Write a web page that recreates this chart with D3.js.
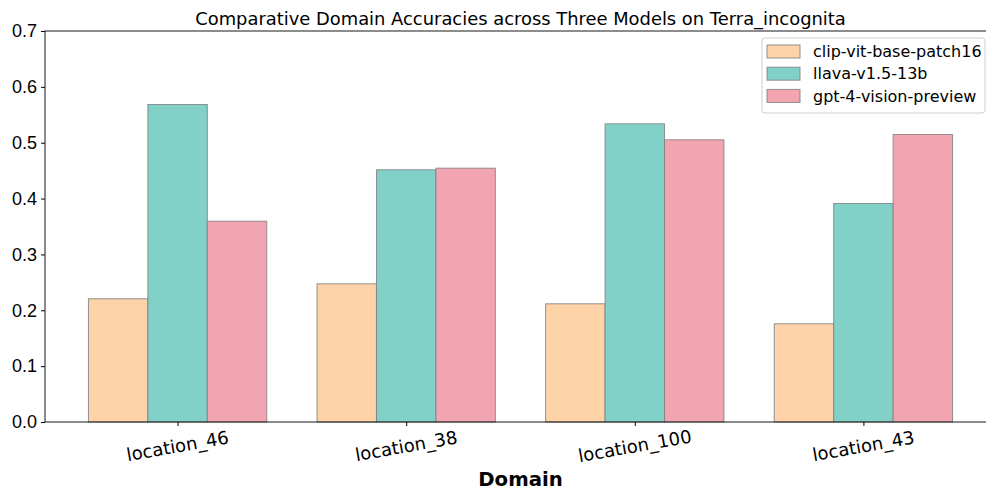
<!DOCTYPE html>
<html>
<head>
<meta charset="utf-8">
<script src="https://cdn.jsdelivr.net/npm/d3@7"></script>
<style>
  body { margin: 0; background: #fff; }
  svg { display: block; font-family: "DejaVu Sans", sans-serif; }
</style>
</head>
<body>
<div id="plot"></div>
<script>
var domains = ["location_46", "location_38", "location_100", "location_43"];
var models = ["clip-vit-base-patch16", "llava-v1.5-13b", "gpt-4-vision-preview"];
var clipValues = [0.2206, 0.2474, 0.2116, 0.1758];
var llavaValues = [0.5684, 0.4515, 0.5338, 0.3912];
var gptValues = [0.3595, 0.4544, 0.5052, 0.5147];
var colors = ["#FED3A7", "#81D1C8", "#F2A5B1"];
var yTicks = [0, 0.1, 0.2, 0.3, 0.4, 0.5, 0.6, 0.7];

var W = 986, H = 491;
var margin = {top: 31, right: -10, bottom: 69, left: 45};
var width = W - margin.left - margin.right;
var height = H - margin.top - margin.bottom;

var series = [clipValues, llavaValues, gptValues];

var svg = d3.select("#plot").append("svg")
  .attr("width", W)
  .attr("height", H);

var g = svg.append("g")
  .attr("transform", "translate(" + margin.left + "," + margin.top + ")");

// numeric x like matplotlib: positions 0..3, limits -0.58..3.58
var x = d3.scaleLinear().domain([-0.58, 3.58]).range([0, width]);
var y = d3.scaleLinear().domain([0, 0.7]).range([height, 0]);
var barW = 0.26;

series.forEach(function(vals, s) {
  g.append("g")
    .selectAll("rect")
    .data(vals)
    .enter().append("rect")
    .attr("x", function(d, i) { return x(i + (s - 1.5) * barW); })
    .attr("y", function(d) { return y(d); })
    .attr("width", x(barW) - x(0))
    .attr("height", function(d) { return y(0) - y(d); })
    .attr("fill", colors[s])
    .attr("stroke", "#808080")
    .attr("stroke-opacity", 0.85)
    .attr("stroke-width", 1);
});

// frame
g.append("rect")
  .attr("x", 0).attr("y", 0)
  .attr("width", width).attr("height", height)
  .attr("fill", "none")
  .attr("stroke", "#000")
  .attr("stroke-width", 0.9);

// y axis
var yAxis = g.append("g")
  .call(d3.axisLeft(y).tickValues(yTicks).tickFormat(d3.format(".1f")).tickSize(4).tickPadding(4));
yAxis.select(".domain").remove();
yAxis.selectAll("text").style("font-size", "18px").attr("fill", "#000");

// x axis
var xAxis = g.append("g")
  .attr("transform", "translate(0," + height + ")")
  .call(d3.axisBottom(x).tickValues([0, 1, 2, 3]).tickFormat("").tickSize(4));
xAxis.select(".domain").remove();

g.append("g")
  .selectAll("text")
  .data(domains)
  .enter().append("text")
  .attr("transform", function(d, i) { return "translate(" + x(i) + "," + (height + 24) + ") rotate(-10)"; })
  .attr("text-anchor", "middle")
  .attr("dy", "0.35em")
  .style("font-size", "18px")
  .text(function(d) { return d; });

// title
svg.append("text")
  .attr("x", margin.left + width / 2)
  .attr("y", 25)
  .attr("text-anchor", "middle")
  .style("font-size", "17.9px")
  .text("Comparative Domain Accuracies across Three Models on Terra_incognita");

// x label
svg.append("text")
  .attr("x", margin.left + width / 2)
  .attr("y", 486)
  .attr("text-anchor", "middle")
  .style("font-size", "19.7px")
  .style("font-weight", "bold")
  .text("Domain");

// legend
var leg = svg.append("g").attr("transform", "translate(762,38)");
leg.append("rect")
  .attr("width", 223).attr("height", 75)
  .attr("rx", 3)
  .attr("fill", "#fff").attr("fill-opacity", 0.8)
  .attr("stroke", "#d0d0d0");

var items = leg.selectAll("g.item")
  .data(models)
  .enter().append("g")
  .attr("transform", function(d, i) { return "translate(0," + (13.5 + i * 22.2) + ")"; });
items.append("rect")
  .attr("x", 5).attr("y", -6.5)
  .attr("width", 33).attr("height", 13)
  .attr("fill", function(d, i) { return colors[i]; })
  .attr("stroke", "#808080")
  .attr("stroke-opacity", 0.85);
items.append("text")
  .attr("x", 51)
  .attr("dy", "0.35em")
  .style("font-size", "16px")
  .text(function(d) { return d; });
</script>
</body>
</html>
